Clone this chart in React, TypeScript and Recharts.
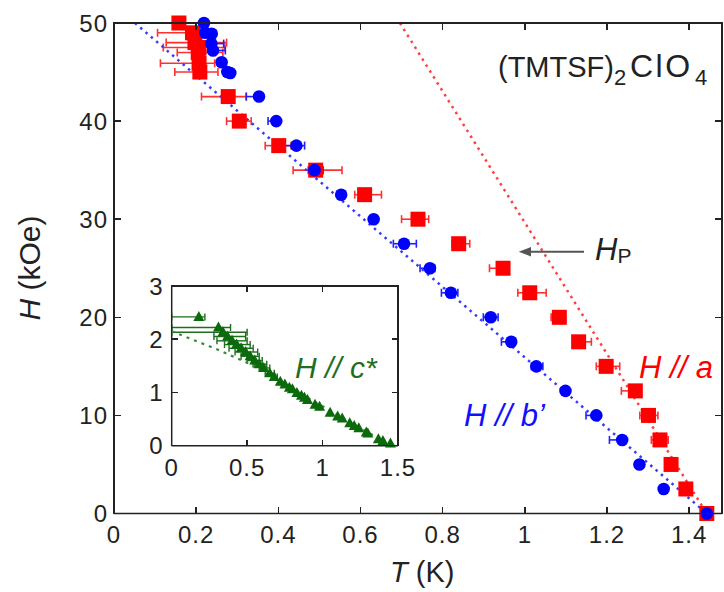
import React from "react";
import { ScatterChart, Scatter, XAxis, YAxis, ErrorBar } from "recharts";

const FONT = "'Liberation Sans', Arial, Helvetica, sans-serif";
const INK = "#222222";

// H // b' (blue circles): T (K), H (kOe), error bar left / right
const bT = [0.219, 0.222, 0.238, 0.237, 0.241, 0.262, 0.276, 0.283, 0.353, 0.395, 0.444, 0.488, 0.553, 0.632, 0.706, 0.769, 0.82, 0.917, 0.967, 1.028, 1.099, 1.174, 1.237, 1.279, 1.338, 1.443];
const bH = [50, 49.0, 48.9, 47.9, 47.2, 46.0, 45.0, 44.9, 42.5, 40, 37.5, 35, 32.5, 30, 27.5, 25, 22.5, 20, 17.5, 15, 12.5, 10, 7.5, 5, 2.5, 0];
const bLo = [0, 0, 0, 0, 0.01, 0.01, 0, 0, 0.031, 0.02, 0.037, 0.015, 0, 0, 0.026, 0.024, 0.023, 0.018, 0.024, 0.012, 0.008, 0.025, 0.031, 0.008, 0.008, 0];
const bHi = [0, 0, 0, 0.03, 0.03, 0, 0, 0, 0, 0, 0.02, 0.021, 0, 0, 0.03, 0.012, 0.017, 0.018, 0, 0.016, 0.008, 0, 0, 0.008, 0, 0];

// H // a (red squares)
const aT = [0.158, 0.191, 0.197, 0.207, 0.205, 0.207, 0.209, 0.278, 0.305, 0.401, 0.491, 0.61, 0.74, 0.839, 0.947, 1.012, 1.084, 1.131, 1.198, 1.269, 1.301, 1.329, 1.356, 1.392, 1.443];
const aH = [50, 49.0, 48.0, 47.5, 47.0, 45.9, 45.0, 42.5, 40, 37.5, 35, 32.5, 30, 27.5, 25, 22.5, 20, 17.5, 15, 12.5, 10, 7.5, 5, 2.5, 0];
const aLo = [0, 0.085, 0.07, 0.087, 0.051, 0.094, 0.061, 0.065, 0.031, 0.033, 0.055, 0.024, 0.04, 0.016, 0.033, 0.029, 0.02, 0, 0.024, 0.034, 0.021, 0.021, 0, 0, 0];
const aHi = [0, 0.04, 0.077, 0.063, 0.06, 0.038, 0.044, 0.044, 0.029, 0.03, 0.064, 0.041, 0.026, 0.027, 0, 0.04, 0, 0.031, 0.033, 0, 0.023, 0.02, 0, 0, 0];

// dotted guide lines
const bLineT = [0.051, 1.443];
const bLineH = [50, 0];
const aLineT = [0.696, 1.443];
const aLineH = [50, 0];

// inset: H // c* (green triangles)
const cT = [0.18, 0.31, 0.34, 0.37, 0.4, 0.43, 0.46, 0.49, 0.52, 0.55, 0.58, 0.61, 0.65, 0.68, 0.72, 0.75, 0.78, 0.8, 0.83, 0.86, 0.88, 0.9, 0.95, 0.98, 1.05, 1.1, 1.13, 1.18, 1.21, 1.24, 1.29, 1.3, 1.37, 1.4, 1.45];
const cH = [2.42, 2.22, 2.13, 2.05, 1.97, 1.9, 1.83, 1.76, 1.68, 1.6, 1.53, 1.46, 1.36, 1.29, 1.2, 1.15, 1.09, 1.06, 0.99, 0.94, 0.9, 0.86, 0.77, 0.73, 0.62, 0.55, 0.51, 0.42, 0.37, 0.33, 0.25, 0.23, 0.12, 0.09, 0.04];
const cLo = [0.18, 0.31, 0.34, 0.09, 0.1, 0.08, 0.08, 0.07, 0.06, 0.05, 0.04, 0.03, 0.03, 0.02, 0, 0, 0, 0, 0, 0, 0, 0, 0, 0, 0, 0, 0, 0, 0, 0, 0, 0, 0, 0, 0];
const cHi = [0.04, 0.08, 0.16, 0.12, 0.1, 0.09, 0.08, 0.08, 0.06, 0.05, 0.05, 0.04, 0.03, 0.02, 0, 0, 0, 0, 0, 0, 0, 0, 0, 0, 0, 0, 0, 0, 0, 0, 0, 0, 0, 0, 0];
const cLineT = [0, 0.3, 0.6, 0.9, 1.2, 1.45];
const cLineH = [2.15, 1.81, 1.43, 0.9, 0.42, 0];

const mainXTicks = [0, 0.2, 0.4, 0.6, 0.8, 1, 1.2, 1.4];
const mainYTicks = [0, 10, 20, 30, 40, 50];
const insetXTicks = [0, 0.5, 1, 1.5];
const insetYTicks = [0, 1, 2, 3];

const rows = (t: number[], h: number[], lo?: number[], hi?: number[]) =>
  t.map((T, i) => ({ T, H: h[i], ex: [lo ? lo[i] : 0, hi ? hi[i] : 0] }));

// chart boxes; plot area follows from them
type Box = { left: number; top: number; w: number; h: number; mt: number; mr: number; xh: number; yw: number; xd: number[]; yd: number[] };
const MAIN: Box = { left: 0, top: 0, w: 724, h: 592, mt: 23, mr: 2, xh: 78.5, yw: 114, xd: [0, 1.48], yd: [0, 50] };
const INSET: Box = { left: 120, top: 270, w: 310, h: 220, mt: 16, mr: 32, xh: 44.3, yw: 51.7, xd: [0, 1.5], yd: [0, 3] };

// tick labels only; tick marks and frame come from <Frame/>
const makeTick = (side: "bottom" | "left", off: number) => (p: any) => {
  const { x, y, payload } = p;
  const v = String(payload.value);
  if (side === "bottom") {
    return <text x={x} y={y + off} textAnchor="middle" fontSize={24} letterSpacing={1} fill={INK} fontFamily={FONT}>{v}</text>;
  }
  return <text x={x - off} y={y + 8.5} textAnchor="end" fontSize={24} letterSpacing={1} fill={INK} fontFamily={FONT}>{v}</text>;
};

// plot box with inward ticks on all four sides, as plain html boxes
function Frame({ b, xt, yt, len }: { b: Box; xt: number[]; yt: number[]; len: number }) {
  const x0 = b.left + b.yw;
  const x1 = b.left + b.w - b.mr;
  const y0 = b.top + b.mt;
  const y1 = b.top + b.h - b.xh;
  const sx = (v: number) => x0 + ((v - b.xd[0]) / (b.xd[1] - b.xd[0])) * (x1 - x0);
  const sy = (v: number) => y1 - ((v - b.yd[0]) / (b.yd[1] - b.yd[0])) * (y1 - y0);
  const lw = 1.5;
  const bar = (left: number, top: number, width: number, height: number, key: string) => (
    <div key={key} style={{ position: "absolute", left, top, width, height, background: INK }} />
  );
  const parts = [
    bar(x0 - lw / 2, y0 - lw / 2, x1 - x0 + lw, lw, "t"),
    bar(x0 - lw / 2, y1 - lw / 2, x1 - x0 + lw, lw, "b"),
    bar(x0 - lw / 2, y0 - lw / 2, lw, y1 - y0 + lw, "l"),
    bar(x1 - lw / 2, y0 - lw / 2, lw, y1 - y0 + lw, "r"),
  ];
  xt.forEach((t) => {
    parts.push(bar(sx(t) - lw / 2, y1 - len, lw, len, "xb" + t));
    parts.push(bar(sx(t) - lw / 2, y0, lw, len, "xt" + t));
  });
  yt.forEach((h) => {
    parts.push(bar(x0, sy(h) - lw / 2, len, lw, "yl" + h));
    parts.push(bar(x1 - len, sy(h) - lw / 2, len, lw, "yr" + h));
  });
  return <>{parts}</>;
}

const Square = (p: any) => <rect x={p.cx - 7.5} y={p.cy - 7.5} width={15} height={15} fill="#ff0000" />;
const Dot = (p: any) => <circle cx={p.cx} cy={p.cy} r={6.3} fill="#0000ff" />;
const Tri = (p: any) => (
  <polygon points={`${p.cx},${p.cy - 6} ${p.cx + 5.5},${p.cy + 4} ${p.cx - 5.5},${p.cy + 4}`} fill="#0b6a0b" />
);
const None = () => <g />;

const axisLine = { stroke: INK, strokeWidth: 1.5 };

export default function App() {
  const blue = rows(bT, bH, bLo, bHi);
  const red = rows(aT, aH, aLo, aHi);
  const green = rows(cT, cH, cLo, cHi);

  return (
    <div style={{ position: "absolute", left: 0, top: 0, width: 724, height: 592, background: "#fff", fontFamily: FONT }}>
      {/* main chart */}
      <div style={{ position: "absolute", left: MAIN.left, top: MAIN.top }}>
        <ScatterChart width={MAIN.w} height={MAIN.h} margin={{ top: MAIN.mt, right: MAIN.mr, bottom: 0, left: 0 }}>
          <XAxis type="number" dataKey="T" domain={MAIN.xd} ticks={mainXTicks} interval={0} height={MAIN.xh}
            axisLine={axisLine} tickLine={false} tickSize={0} tickMargin={0} tick={makeTick("bottom", 29)} />
          <YAxis type="number" dataKey="H" domain={MAIN.yd} ticks={mainYTicks} interval={0} width={MAIN.yw}
            axisLine={axisLine} tickLine={false} tickSize={0} tickMargin={0} tick={makeTick("left", 6)} />

          <Scatter data={rows(bLineT, bLineH)} shape={None} isAnimationActive={false}
            line={{ stroke: "#3a3aff", strokeWidth: 2.5, strokeDasharray: "2.5 4.5" }} />
          <Scatter data={rows(aLineT, aLineH)} shape={None} isAnimationActive={false}
            line={{ stroke: "#ff4040", strokeWidth: 2.5, strokeDasharray: "2.5 4.5" }} />

          <Scatter data={red} shape={Square} isAnimationActive={false}>
            <ErrorBar dataKey="ex" direction="x" width={4} stroke="#ff3030" strokeWidth={1.6} />
          </Scatter>
          <Scatter data={blue} shape={Dot} isAnimationActive={false}>
            <ErrorBar dataKey="ex" direction="x" width={4} stroke="#2020ff" strokeWidth={1.6} />
          </Scatter>
        </ScatterChart>
      </div>

      {/* inset */}
      <div style={{ position: "absolute", left: INSET.left, top: INSET.top }}>
        <ScatterChart width={INSET.w} height={INSET.h} margin={{ top: INSET.mt, right: INSET.mr, bottom: 0, left: 0 }}>
          <XAxis type="number" dataKey="T" domain={INSET.xd} ticks={insetXTicks} interval={0} height={INSET.xh}
            axisLine={axisLine} tickLine={false} tickSize={0} tickMargin={0} tick={makeTick("bottom", 30)} />
          <YAxis type="number" dataKey="H" domain={INSET.yd} ticks={insetYTicks} interval={0} width={INSET.yw}
            axisLine={axisLine} tickLine={false} tickSize={0} tickMargin={0} tick={makeTick("left", 8)} />

          <Scatter data={rows(cLineT, cLineH)} shape={None} isAnimationActive={false}
            line={{ stroke: "#3a8a3a", strokeWidth: 2.2, strokeDasharray: "3 5" }} />
          <Scatter data={green} shape={Tri} isAnimationActive={false}>
            <ErrorBar dataKey="ex" direction="x" width={3.5} stroke="#1d6d1d" strokeWidth={1.4} />
          </Scatter>
        </ScatterChart>
      </div>

      {/* frames */}
      <Frame b={MAIN} xt={mainXTicks.slice(1)} yt={mainYTicks.slice(1, -1)} len={7} />
      <Frame b={INSET} xt={insetXTicks.slice(1, -1)} yt={insetYTicks.slice(1, -1)} len={6} />

      {/* labels */}
      <svg width={724} height={592} style={{ position: "absolute", left: 0, top: 0, pointerEvents: "none" }} fontFamily={FONT}>
        <text x={498} y={77} fontSize={29} fill={INK}>
          (TMTSF)
          <tspan dy={8} fontSize={22}>2</tspan>
          <tspan x={630} dy={-8} fontSize={32} letterSpacing={2.5}>ClO</tspan>
          <tspan x={695} dy={8} fontSize={22}>4</tspan>
        </text>

        <line x1={584} y1={251.7} x2={528} y2={251.7} stroke="#555" strokeWidth={2} />
        <polygon points="518.7,251.7 531,247 531,256.4" fill="#555" />
        <text x={595} y={260} fontSize={31} fill={INK}>
          <tspan fontStyle="italic">H</tspan>
          <tspan fontSize={21} dy={3}>P</tspan>
        </text>

        <text x={639} y={378} fontSize={31} fontStyle="italic" fill="#ff0000">H // a</text>
        <text x={464} y={426} fontSize={31} fontStyle="italic" fill="#1010ff">H // b’</text>
        <text x={295} y={378} fontSize={30} fontStyle="italic" fill="#1f6e22">H // c*</text>

        <text x={390} y={582} fontSize={29} fill={INK}>
          <tspan fontStyle="italic">T</tspan> (K)
        </text>
        <text transform="translate(40,268) rotate(-90)" textAnchor="middle" fontSize={30} fill={INK}>
          <tspan fontStyle="italic">H</tspan> (kOe)
        </text>
      </svg>
    </div>
  );
}
